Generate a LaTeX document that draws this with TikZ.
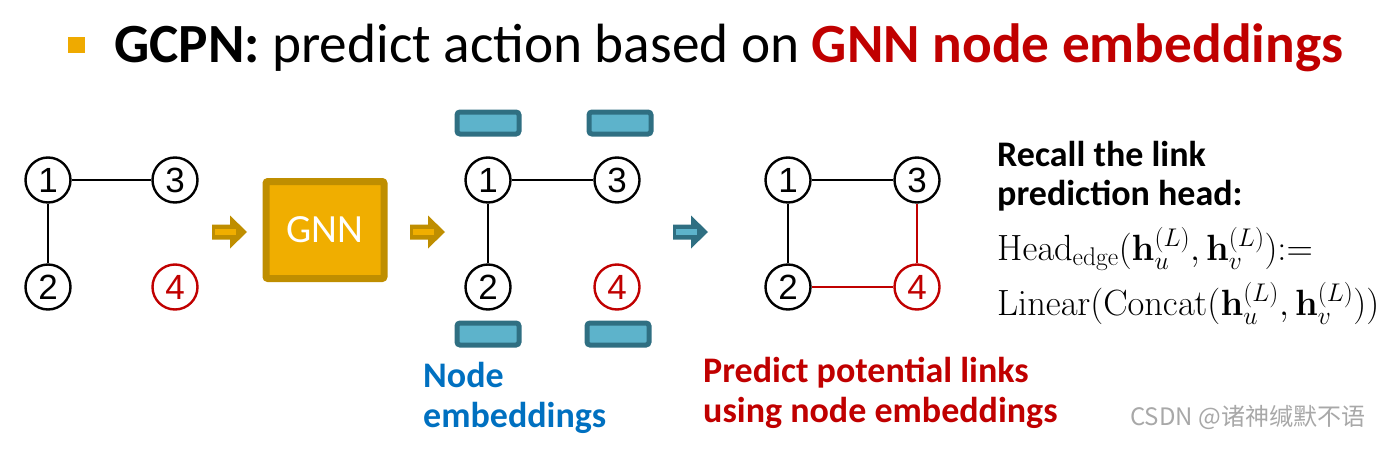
\RequirePackage{fix-cm}
\documentclass[tikz,border=0pt]{standalone}
\usepackage[no-math]{fontspec}
\setmainfont{Carlito}
\newfontfamily\digitfont{Liberation Sans}
\newfontfamily\cjkfont{Noto Sans CJK SC}
\definecolor{goldD}{HTML}{BF8E00}
\definecolor{goldL}{HTML}{F0AE00}
\definecolor{tealD}{HTML}{2F6F82}
\definecolor{tealL}{HTML}{5DB3CB}
\definecolor{redC}{HTML}{C00000}
\definecolor{blueC}{HTML}{0070C0}
\definecolor{bulletC}{HTML}{EFAA00}
\definecolor{wmC}{HTML}{A8A8A8}
\begin{document}
\begin{tikzpicture}[x=1pt,y=-1pt,
  gnode/.style={circle, draw=black, line width=2.4pt, minimum size=45pt, inner sep=0pt,
    font=\digitfont\fontsize{35}{35}\selectfont},
  rnode/.style={gnode, draw=redC, text=redC},
  edge/.style={line width=2.4pt, black},
  redge/.style={line width=2pt, redC},
  embbar/.style={rectangle, rounded corners=3pt, draw=tealD, fill=tealL, line width=5pt,
    minimum width=62pt, minimum height=22pt, inner sep=0pt},
  gnnbox/.style={rectangle, rounded corners=2pt, draw=goldD, fill=goldL, line width=7pt,
    minimum width=118pt, minimum height=97pt, text=white, font=\fontsize{40}{40}\selectfont},
  boldtxt/.style={anchor=base west, inner sep=0pt, font=\bfseries\fontsize{36}{40}\selectfont},
  mathtxt/.style={anchor=base west, inner sep=0pt, font=\fontsize{36.5}{40}\selectfont},
  pics/blockarrow/.style 2 args={code={
    \fill[#1] (-17,-7.5) -- (1,-7.5) -- (1,-16.5) -- (18,0) -- (1,16.5) -- (1,7.5) -- (-17,7.5) -- cycle;
    \fill[#2] (-14,-2.6) rectangle (7,2.6);
  }},
]
\useasboundingbox (0,0) rectangle (1400,463);
% title
\fill[bulletC] (68,37) rectangle (85,53);
\node[anchor=base west, inner sep=0pt, font=\fontsize{55.3}{60}\selectfont] (title) at (114,62)
  {\textbf{GCPN:} predict action based on \textcolor{redC}{\textbf{GNN node embeddings}}};
% graph 1
\node[gnode] (a1) at (48,180) {1};
\node[gnode] (a3) at (175,180) {3};
\node[gnode] (a2) at (48,287) {2};
\node[rnode] (a4) at (175,287) {4};
\draw[edge] (a1) -- (a3);
\draw[edge] (a1) -- (a2);
% arrow + GNN
\pic at (229,232) {blockarrow={goldD}{goldL}};
\node[gnnbox] (gnn) at (325,230) {GNN};
\pic at (427,232) {blockarrow={goldD}{goldL}};
% graph 2
\node[gnode] (b1) at (488,180) {1};
\node[gnode] (b3) at (617,180) {3};
\node[gnode] (b2) at (488,287) {2};
\node[rnode] (b4) at (617,287) {4};
\draw[edge] (b1) -- (b3);
\draw[edge] (b1) -- (b2);
\node[embbar] (e1) at (488,123) {};
\node[embbar] (e3) at (620,123) {};
\node[embbar] (e2) at (488,334) {};
\node[embbar] (e4) at (618,334) {};
\node[boldtxt, text=blueC] (ne1) at (423,387) {Node};
\node[boldtxt, text=blueC] (ne2) at (423,427) {embeddings};
% arrow 3
\pic at (690,232) {blockarrow={tealD}{tealL}};
% graph 3
\node[gnode] (c1) at (788,180) {1};
\node[gnode] (c3) at (917,180) {3};
\node[gnode] (c2) at (788,287) {2};
\node[rnode] (c4) at (917,287) {4};
\draw[edge] (c1) -- (c3);
\draw[edge] (c1) -- (c2);
\draw[redge] (c3) -- (c4);
\draw[redge] (c2) -- (c4);
\node[boldtxt, text=redC] (pl1) at (703,382) {Predict potential links};
\node[boldtxt, text=redC] (pl2) at (703,422) {using node embeddings};
% right text
\node[boldtxt] (r1) at (997,166) {Recall the link};
\node[boldtxt] (r2) at (997,205) {prediction head:};
\node[mathtxt] (m1) at (997,260)
  {$\mathrm{Head}_{\mathrm{edge}}(\mathbf{h}_u^{(L)},\mathbf{h}_v^{(L)}){:}{=}$};
\node[mathtxt] (m2) at (997,315)
  {$\mathrm{Linear}(\mathrm{Concat}(\mathbf{h}_u^{(L)},\mathbf{h}_v^{(L)}))$};
% watermark
\node[anchor=base west, inner sep=0pt, text=wmC, font=\cjkfont\fontsize{24}{28}\selectfont] (wm) at (1130,425)
  {CSDN @诸神缄默不语};
\end{tikzpicture}
\end{document}
